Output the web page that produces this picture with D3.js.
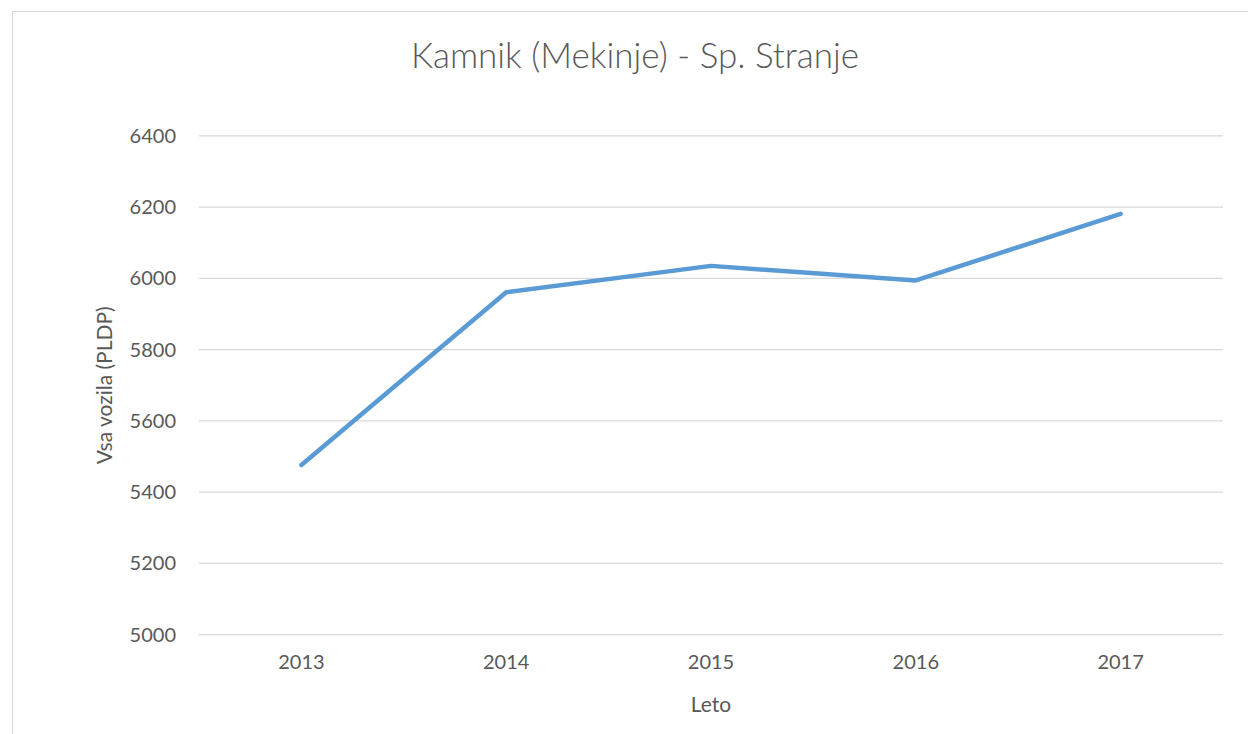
<!DOCTYPE html>
<html><head><meta charset="utf-8">
<script src="https://cdn.jsdelivr.net/npm/d3@7"></script>
<style>body{margin:0;background:#fff}svg{display:block}text{font-family:Lato,"Open Sans",sans-serif}</style>
</head><body>
<svg id="c" width="1248" height="734"></svg>
<script>
const years = ["2013","2014","2015","2016","2017"];
const values = [5476, 5961, 6035, 5994, 6181];
const yTicks = [5000,5200,5400,5600,5800,6000,6200,6400];
const title = "Kamnik (Mekinje) - Sp. Stranje";
const xTitle = "Leto";
const yTitle = "Vsa vozila (PLDP)";

const svg = d3.select("#c");
const L = 199, R = 1223, T = 135.8, B = 634.7;
svg.append("rect").attr("x",12.5).attr("y",11.5).attr("width",1300).attr("height",800)
  .attr("fill","#fff").attr("stroke","#d9d9d9").attr("stroke-width",1);

const x = d3.scaleBand().domain(years).range([L,R]);
const y = d3.scaleLinear().domain([5000,6400]).range([B,T]);

svg.append("g").selectAll("line").data(yTicks).join("line")
  .attr("x1",L).attr("x2",R).attr("y1",d=>y(d)).attr("y2",d=>y(d))
  .attr("stroke","#d9d9d9").attr("stroke-width",1.3);

const yAxis = d3.axisLeft(y).tickValues(yTicks).tickFormat(d3.format("d")).tickSize(0).tickPadding(23);
const gy = svg.append("g").attr("transform",`translate(${L},0)`).call(yAxis);
gy.select(".domain").remove();
gy.selectAll("text").attr("fill","#595959").style("font-size","20px").style("font-family","Lato, 'Open Sans', sans-serif");

const xAxis = d3.axisBottom(x).tickSize(0).tickPadding(20);
const gx = svg.append("g").attr("transform",`translate(0,${B})`).call(xAxis);
gx.select(".domain").remove();
gx.selectAll("text").attr("fill","#595959").style("font-size","20px").style("font-family","Lato, 'Open Sans', sans-serif");

const line = d3.line().x((d,i)=>x(years[i])+x.bandwidth()/2).y(d=>y(d));
svg.append("path").datum(values).attr("d",line).attr("fill","none")
  .attr("stroke","#5b9bd5").attr("stroke-width",4.5)
  .attr("stroke-linecap","round").attr("stroke-linejoin","round");

svg.append("text").attr("x",635).attr("y",68).attr("text-anchor","middle")
  .attr("fill","#595959").style("font-size","35px").style("font-weight",300).text(title);
svg.append("text").attr("x",(L+R)/2).attr("y",712).attr("text-anchor","middle")
  .attr("fill","#595959").style("font-size","21px").text(xTitle);
svg.append("text").attr("transform",`translate(112,${(T+B)/2}) rotate(-90)`).attr("text-anchor","middle")
  .attr("fill","#595959").style("font-size","21px").text(yTitle);
</script>
</body></html>
